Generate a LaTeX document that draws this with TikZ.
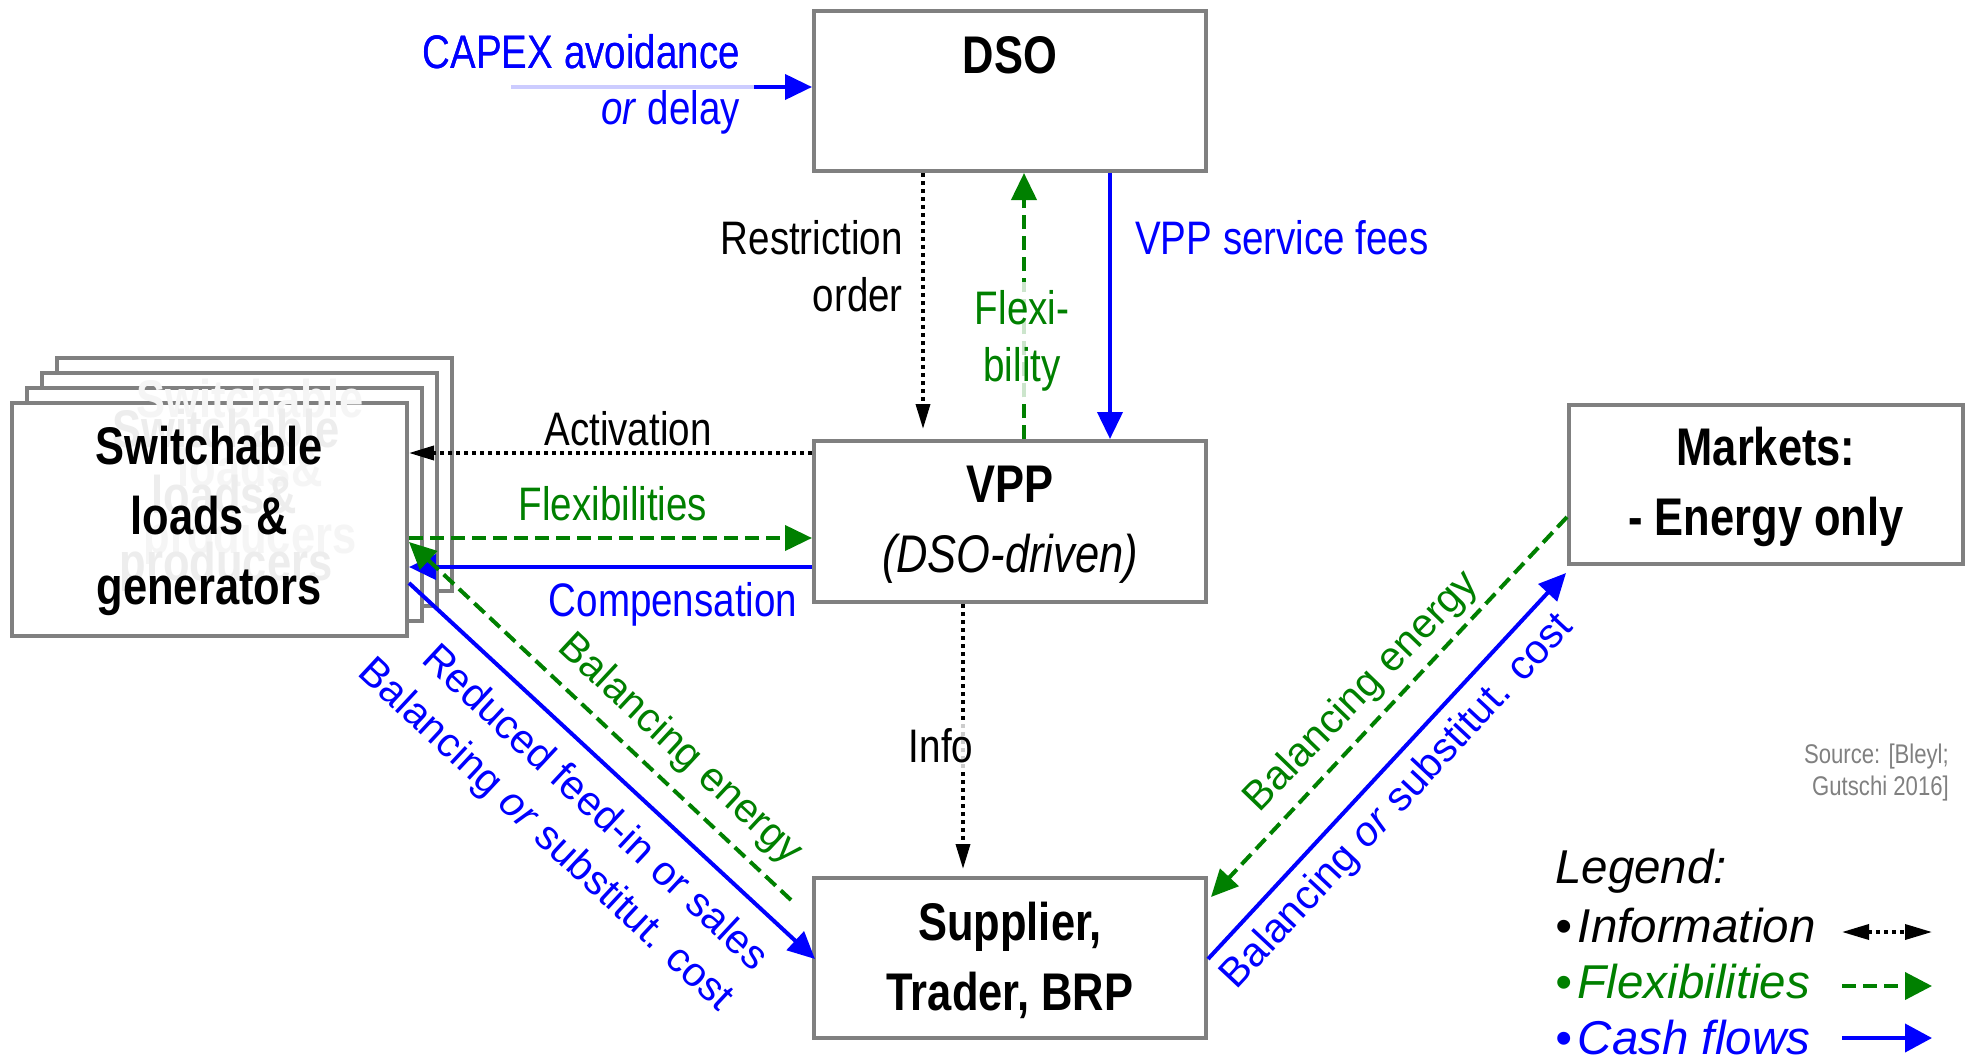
\documentclass[tikz,border=0pt]{standalone}
\usepackage{fontspec}
\setmainfont{Liberation Sans}
\newfontfamily\narrowfont[FakeStretch=0.82]{Liberation Sans}
\usetikzlibrary{arrows.meta,calc}

\definecolor{cashblue}{RGB}{0,0,255}
\definecolor{flexgreen}{RGB}{0,128,0}
\definecolor{boxgray}{RGB}{128,128,128}

\newcommand{\legbullet}{•\kern6pt}

\tikzset{
  box/.style={draw=boxgray, line width=4pt, fill=white, inner sep=0pt, rectangle},
  title/.style={font=\narrowfont\bfseries\fontsize{53}{64}\selectfont, inner sep=0pt, anchor=base},
  ghost/.style={title, text=gray!14},
  ghostfaint/.style={title, text=gray!8},
  lbl/.style={font=\narrowfont\fontsize{47}{56}\selectfont, inner sep=0pt},
  diag/.style={font=\fontsize{41}{48}\selectfont, inner sep=0pt, anchor=center},
  legendtxt/.style={font=\itshape\fontsize{47.5}{56}\selectfont, inner sep=0pt, anchor=base west},
  srctxt/.style={font=\narrowfont\fontsize{27}{32}\selectfont, text=boxgray, inner sep=0pt, anchor=base east},
  cash/.style={draw=cashblue, line width=4pt, -{Triangle[length=27pt,width=25pt]}},
  flex/.style={draw=flexgreen, line width=4pt, dash pattern=on 14pt off 7pt, -{Triangle[length=27pt,width=25pt]}},
  info/.style={draw=black, line width=3.5pt, dash pattern=on 4pt off 4pt, -{Triangle[length=25pt,width=14pt]}},
  mask/.style={fill=white, fill opacity=0.8},
}

\begin{document}
\begin{tikzpicture}[x=1pt,y=-1pt]
\useasboundingbox (0,0) rectangle (1970,1057);

% --- actors ---
\node[box, minimum width=392pt, minimum height=160pt] (dso) at (1010,91) {};
\node[box, minimum width=392pt, minimum height=161pt] (vpp) at (1010,521.5) {};
\node[box, minimum width=392pt, minimum height=160pt] (sup) at (1010,958) {};
\node[box, minimum width=394pt, minimum height=159pt] (mkt) at (1766,484.5) {};

% stacked cards of switchable units
\node[box, minimum width=395pt, minimum height=233pt] (sw4) at (254.5,474.5) {};
\node[box, minimum width=395pt, minimum height=233pt] (sw3) at (239.5,489.5) {};
\node[box, minimum width=395pt, minimum height=233pt] (sw2) at (224.5,504.5) {};
\node[box, minimum width=395pt, minimum height=233pt] (sw) at (209.5,519.5) {};

% faded captions of the cards behind
\node[ghostfaint] (gb1) at (250,417) {Switchable};
\node[ghostfaint] (gb2) at (250,486) {loads\&};
\node[ghostfaint] (gb3) at (250,553) {producers};
\node[ghost] (ga1) at (226,447) {Switchable};
\node[ghost] (ga2) at (224,513) {loads\&};
\node[ghost] (ga3) at (226,580) {producers};

% box captions
\node[title] (dsoT) at (1010,74) {DSO};
\node[title] (vppT) at (1010,502) {VPP};
\node[title, font=\narrowfont\itshape\fontsize{53}{64}\selectfont] (vppS) at (1010,572) {(DSO-driven)};
\node[title] (supT) at (1010,940) {Supplier,};
\node[title] (supS) at (1010,1010) {Trader, BRP};
\node[title] (mktT) at (1766,465) {Markets:};
\node[title] (mktS) at (1766,535) {- Energy only};
\node[title] (swT) at (209,464) {Switchable};
\node[title] (swS) at (209,534) {loads \&};
\node[title] (swU) at (209,604) {generators};

% --- flows between DSO and VPP ---
\coordinate (capexStart) at (511,87);
\draw[cash] (capexStart) -- (dso.west |- capexStart);
\draw[info] ($(dso.south west)+(111,0)$) -- ($(vpp.north west)+(111,-10)$);
\draw[flex] ($(vpp.north west)+(212,0)$) -- ($(dso.south west)+(212,0)$);
\draw[cash] ($(dso.south west)+(298,0)$) -- ($(vpp.north west)+(298,0)$);

% --- flows between VPP and switchable units ---
\draw[info] ($(vpp.north west)+(0,14)$) -- ($(sw.north east)+(0,52)$);
\draw[flex] ($(sw.north east)+(0,137)$) -- ($(vpp.north west)+(0,99)$);
\draw[cash] ($(vpp.north west)+(0,128)$) -- ($(sw.north east)+(0,166)$);

% --- VPP to supplier ---
\draw[info] ($(vpp.south west)+(151,0)$) -- ($(sup.north west)+(151,-7)$);

% --- supplier and switchable units ---
\draw[flex] ($(sup.north west)+(-21,24)$) -- ($(sw.north east)+(0,141)$);
\draw[cash] ($(sw.north east)+(0,182)$) -- ($(sup.north west)+(3,83)$);

% --- supplier and markets ---
\draw[flex] ($(mkt.north west)+(0,114)$) -- ($(sup.north east)+(3,21)$);
\draw[cash] ($(sup.north east)+(0,83)$) -- ($(mkt.south west)+(-1,7)$);

% --- labels ---
\node[lbl, anchor=base east, text=cashblue] (capexA) at (740,69) {CAPEX avoidance};
\node[lbl, anchor=base east, text=cashblue] (capexB) at (740,124) {\textit{or} delay};
\fill[mask] ($(capexStart)+(0,-8)$) rectangle ($(capexB.north east)+(14,0)$);
\node[lbl, anchor=base east, text=cashblue] at (capexA.base east) {CAPEX avoidance};

\node[lbl, anchor=base east] (restrA) at (903,254) {Restriction};
\node[lbl, anchor=base east] (restrB) at (903,311) {order};

\node[lbl, anchor=base, text=flexgreen] (flexA) at (1022,324) {Flexi-};
\node[lbl, anchor=base, text=flexgreen] (flexB) at (1022,381) {bility};
\fill[mask] ($(flexA.north west)+(-6,-8)$) rectangle ($(flexB.south east)+(6,6)$);
\node[lbl, anchor=base, text=flexgreen] at (flexA.base) {Flexi-};
\node[lbl, anchor=base, text=flexgreen] at (flexB.base) {bility};

\node[lbl, anchor=base west, text=cashblue] (fees) at (1135,254) {VPP service fees};

\node[lbl, anchor=base] (activ) at (628,445) {Activation};
\node[lbl, anchor=base, text=flexgreen] (flexs) at (613,520) {Flexibilities};
\node[lbl, anchor=base, text=cashblue] (comp) at (673,616) {Compensation};

\node[lbl, anchor=base] (infoL) at (941,762) {Info};
\fill[mask] ($(infoL.north west)+(-4,-6)$) rectangle ($(infoL.south east)+(4,6)$);
\node[lbl, anchor=base] at (infoL.base) {Info};

\node[diag, rotate=-43, text=flexgreen] (balL) at (680,750) {Balancing energy};
\node[diag, rotate=-43, text=cashblue] (redL) at (597,806) {Reduced feed-in or sales};
\node[diag, rotate=-43, text=cashblue] (subL) at (545,836) {Balancing \textit{or} substitut. cost};
\node[diag, rotate=46, text=flexgreen] (balR) at (1362,692) {Balancing energy};
\node[diag, rotate=47, text=cashblue] (subR) at (1398,802) {Balancing \textit{or} substitut. cost};

% --- source ---
\node[srctxt] (srcA) at (1949,763) {Source: [Bleyl;};
\node[srctxt] (srcB) at (1949,795) {Gutschi 2016]};

% --- legend ---
\node[legendtxt] (legT) at (1555,883) {Legend:};
\node[legendtxt] (legI) at (1555,942) {\legbullet Information};
\node[legendtxt, text=flexgreen] (legF) at (1555,998) {\legbullet Flexibilities};
\node[legendtxt, text=cashblue] (legC) at (1555,1054) {\legbullet Cash flows};

\coordinate (liA) at (1842,932);
\coordinate (liB) at (1932,932);
\coordinate (lfA) at (1842,986);
\coordinate (lfB) at (1932,986);
\coordinate (lcA) at (1842,1038);
\coordinate (lcB) at (1932,1038);
\draw[info, {Triangle[length=27pt,width=15pt]}-{Triangle[length=27pt,width=15pt]}] (liA) -- (liB);
\draw[flex, -{Triangle[length=27pt,width=27pt]}] (lfA) -- (lfB);
\draw[cash, -{Triangle[length=27pt,width=28pt]}] (lcA) -- (lcB);
\end{tikzpicture}
\end{document}
